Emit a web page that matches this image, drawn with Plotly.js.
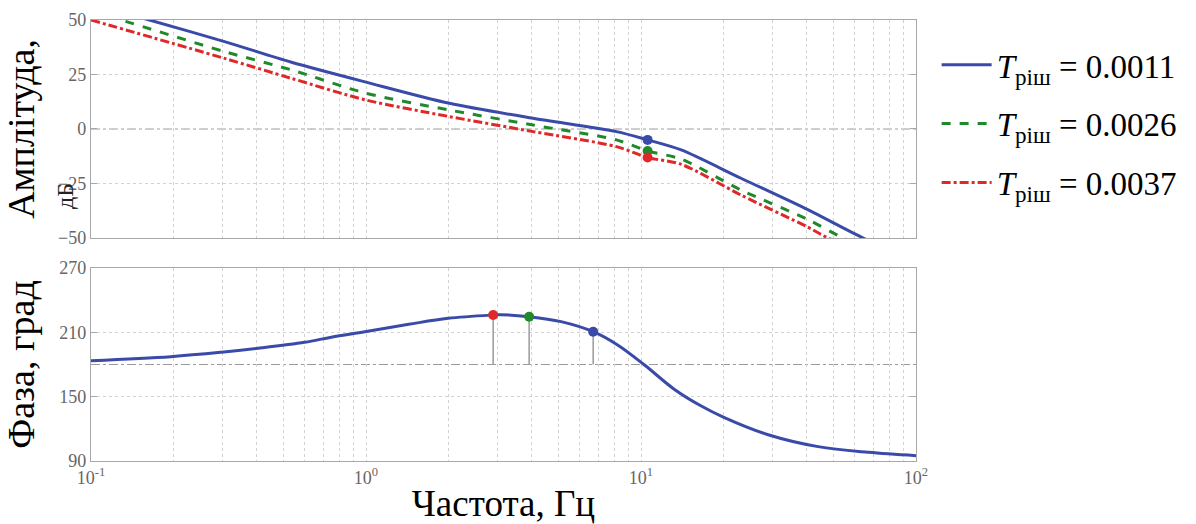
<!DOCTYPE html>
<html>
<head>
<meta charset="utf-8">
<script src="https://cdn.plot.ly/plotly-3.0.1.min.js"></script>
<style>html,body{margin:0;padding:0;background:#fff;}#chart{width:1196px;height:524px;}</style>
</head>
<body>
<div id="chart"></div>
<script>
// ---- data ----
const seriesNames = ["<i>T</i><sub>ріш</sub> = 0.0011", "<i>T</i><sub>ріш</sub> = 0.0026", "<i>T</i><sub>ріш</sub> = 0.0037"];

const magFreqBlue  = [0.1, 0.163, 0.306, 0.536, 1.0, 2.01, 4.05, 8.14, 10.57, 14.0, 23.1, 40.4, 64.3, 100];
const magBlue      = [57.5, 50, 40.1, 30.6, 21.5, 11.8, 4.9, -1.2, -5.0, -9.6, -22.6, -37.0, -50, -60];

const magFreqGreen = [0.1, 0.1285, 0.306, 0.536, 1.0, 2.01, 4.05, 8.14, 10.57, 14.0, 23.1, 40.4, 54.3, 100];
const magGreen     = [54, 50, 35.5, 27.1, 16.4, 8.7, 1.8, -5.0, -10.1, -13.8, -28, -41.5, -50, -64];

const magFreqRed   = [0.1, 0.306, 0.536, 1.0, 2.01, 4.05, 8.14, 10.57, 14.0, 23.1, 40.4, 47.9, 100];
const magRed       = [50, 32.4, 23.2, 13.3, 5.7, -1.2, -8.1, -13.1, -16.2, -30.3, -45.0, -50, -66];

const magMarkerFreq = [10.57, 10.57, 10.57];
const magMarkerVal  = [-5.0, -10.1, -13.1];

const phaseFreq = [0.1, 0.195, 0.298, 0.405, 0.598, 0.748, 0.99, 1.43, 1.99, 2.90, 3.09, 3.92, 5.12, 6.70, 8.22, 10.3, 13.2, 16.5, 20.1, 29.0, 44.1, 67, 100];
const phaseVal  = [183.6, 187.3, 191.4, 195.1, 200.7, 205.5, 210.6, 217.5, 223.1, 226.2, 226.5, 224.6, 220.0, 210.6, 198.2, 179.5, 157.0, 141.5, 130.5, 114.5, 103.4, 98.1, 95.0];

const phaseMarkerFreq = [6.70, 3.92, 2.90];
const phaseMarkerVal  = [210.6, 224.6, 226.2];
const phaseRef = 180;

const colors = ["#3a4aa8", "#1f8a2a", "#e02828"];
const dashes = ["solid", "dash", "dashdot"];

const decadeLabels = ["10<sup>-1</sup>", "10<sup>0</sup>", "10<sup>1</sup>", "10<sup>2</sup>"];
const magTicks = [-50, -25, 0, 25, 50];
const phaseTicks = [90, 150, 210, 270];

// ---- build log tick values (all 1..9 multiples) ----
const logTickVals = [], logTickText = [];
for (let d = -1; d <= 1; d++) {
  for (let m = 1; m <= 9; m++) {
    logTickVals.push(m * Math.pow(10, d));
    logTickText.push(m === 1 ? decadeLabels[d + 1] : "");
  }
}
logTickVals.push(100); logTickText.push(decadeLabels[3]);

const magFreqs = [magFreqBlue, magFreqGreen, magFreqRed];
const mags = [magBlue, magGreen, magRed];

const traces = [];
for (let i = 0; i < 3; i++) {
  traces.push({
    x: magFreqs[i], y: mags[i], xaxis: "x", yaxis: "y", mode: "lines",
    line: {color: colors[i], width: 3, dash: dashes[i], shape: "spline", smoothing: 0.8},
    name: seriesNames[i], legendgroup: "g" + i, showlegend: true
  });
}
for (let i = 0; i < 3; i++) {
  traces.push({
    x: [magMarkerFreq[i]], y: [magMarkerVal[i]], xaxis: "x", yaxis: "y", mode: "markers",
    marker: {color: colors[i], size: 10}, showlegend: false, hoverinfo: "skip"
  });
}
const stemX = [], stemY = [];
for (let i = 0; i < 3; i++) {
  stemX.push(phaseMarkerFreq[i], phaseMarkerFreq[i], null);
  stemY.push(phaseMarkerVal[i], phaseRef, null);
}
traces.push({
  x: stemX, y: stemY, xaxis: "x2", yaxis: "y2", mode: "lines",
  line: {color: "#9a9a9a", width: 1.5}, showlegend: false, hoverinfo: "skip"
});
traces.push({
  x: phaseFreq, y: phaseVal, xaxis: "x2", yaxis: "y2", mode: "lines",
  line: {color: colors[0], width: 3, shape: "spline", smoothing: 1.0}, showlegend: false
});
for (let i = 0; i < 3; i++) {
  traces.push({
    x: [phaseMarkerFreq[i]], y: [phaseMarkerVal[i]], xaxis: "x2", yaxis: "y2", mode: "markers",
    marker: {color: colors[i], size: 10}, showlegend: false, hoverinfo: "skip"
  });
}

const serif = "Liberation Serif, Times New Roman, serif";
const tickFont = {family: serif, size: 18, color: "#666"};
const titleFont = {family: serif, size: 38, color: "#000"};
const gridCol = "#d2d2d2";
const lineCol = "#a8a8a8";

const xBase = {
  type: "log", range: [-1, 2], tickvals: logTickVals, ticktext: logTickText,
  showgrid: true, gridcolor: gridCol, griddash: "dot", gridwidth: 1,
  showline: true, mirror: true, linecolor: lineCol, linewidth: 1.2,
  ticks: "", tickfont: tickFont, zeroline: false
};

const layout = {
  width: 1196, height: 524,
  margin: {l: 91, r: 280, t: 20, b: 63},
  paper_bgcolor: "#fff", plot_bgcolor: "#fff",
  showlegend: true,
  legend: {
    x: 1.025, y: 0.962, xanchor: "left", yanchor: "top",
    font: {family: serif, size: 33, color: "#000"},
    tracegroupgap: 13, traceorder: "grouped", bgcolor: "rgba(0,0,0,0)", itemwidth: 50
  },
  xaxis: Object.assign({}, xBase, {anchor: "y", showticklabels: false}),
  xaxis2: Object.assign({}, xBase, {anchor: "y2", showticklabels: true,
    title: {text: "Частота, Гц", font: {family: serif, size: 37, color: "#000"}, standoff: 6}}),
  yaxis: {
    domain: [0.5057, 1], range: [-50, 50], tickvals: magTicks,
    showgrid: true, gridcolor: gridCol, griddash: "dot", zeroline: false,
    showline: true, mirror: "ticks", linecolor: lineCol, linewidth: 1.2,
    ticks: "inside", ticklen: 6, tickcolor: lineCol, tickfont: tickFont,
    title: {text: "Амплітуда,", font: titleFont, standoff: 14}
  },
  yaxis2: {
    domain: [0, 0.4376], range: [90, 270], tickvals: phaseTicks,
    showgrid: true, gridcolor: gridCol, griddash: "dot", zeroline: false,
    showline: true, mirror: "ticks", linecolor: lineCol, linewidth: 1.2,
    ticks: "inside", ticklen: 6, tickcolor: lineCol, tickfont: tickFont,
    title: {text: "Фаза, град", font: titleFont, standoff: 14}
  },
  shapes: [
    {type: "line", xref: "x domain", yref: "y", x0: 0, x1: 1, y0: 0, y1: 0,
     line: {color: "#9a9a9a", width: 1.2, dash: "dashdot"}, layer: "below"},
    {type: "line", xref: "x2 domain", yref: "y2", x0: 0, x1: 1, y0: phaseRef, y1: phaseRef,
     line: {color: "#9a9a9a", width: 1.2, dash: "dashdot"}, layer: "below"}
  ],
  annotations: [
    {text: "дБ", xref: "paper", yref: "paper", x: (65 - 91) / 825, y: (461 - 196) / 441,
     xanchor: "center", yanchor: "middle",
     showarrow: false, textangle: -90, font: {family: serif, size: 24, color: "#222"}}
  ]
};

Plotly.newPlot("chart", traces, layout, {displayModeBar: false, staticPlot: true});
</script>
</body>
</html>
